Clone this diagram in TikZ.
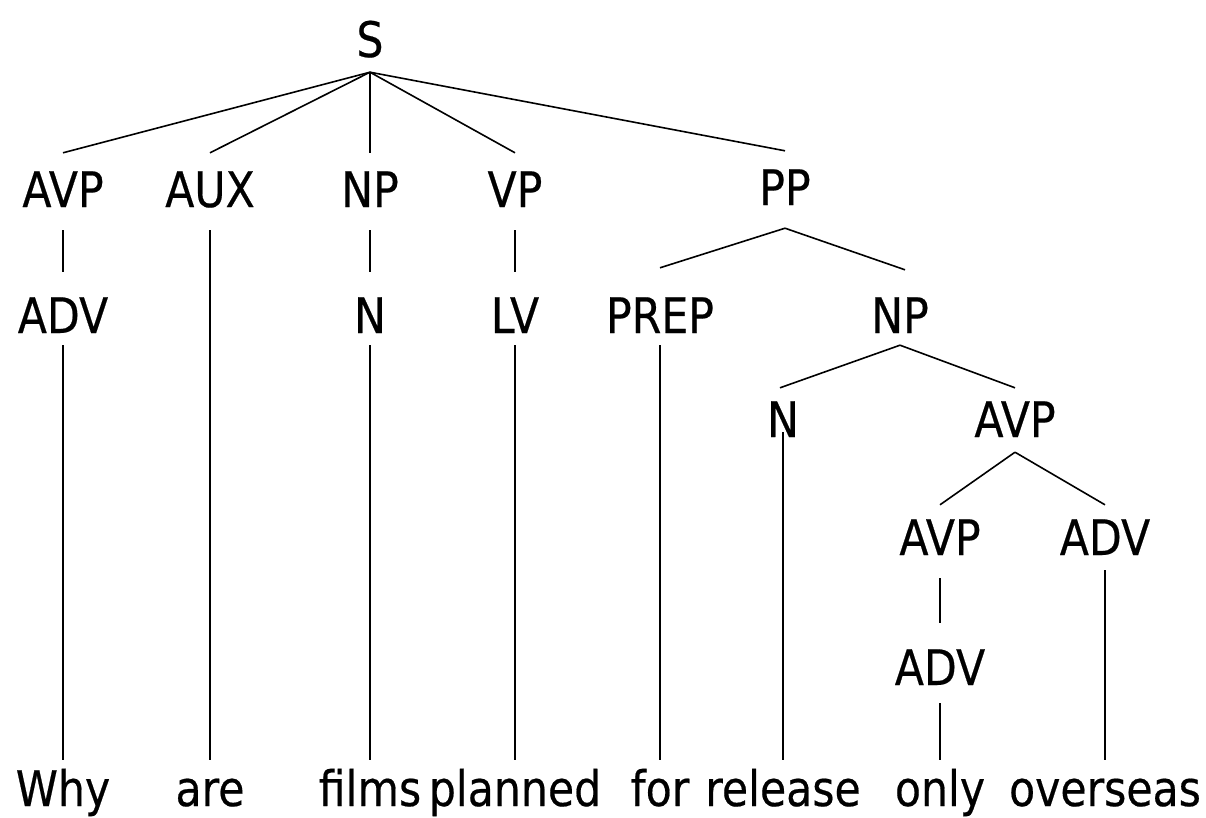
\documentclass[tikz,border=0pt]{standalone}
\usepackage{fontspec}
\setmainfont[FakeStretch=0.87,FakeBold=0.4]{DejaVu Sans}
\begin{document}
\begin{tikzpicture}[x=1bp,y=-1bp,
  lab/.style={anchor=base,inner sep=0pt,text height=36bp,text depth=0pt,
    font=\fontsize{49bp}{58bp}\selectfont},
  edge/.style={line width=1.6bp,black}]
\useasboundingbox (0,0) rectangle (1206,818);
% root
\node[lab] (S) at (370,57) {S};
% row 1
\node[lab] (avpA) at (63,207) {AVP};
\node[lab] (aux) at (210,207) {AUX};
\node[lab] (npA) at (370,207) {NP};
\node[lab] (vp) at (515,207) {VP};
\node[lab] (pp) at (785,205) {PP};
% row 2
\node[lab] (advA) at (63,333) {ADV};
\node[lab] (nA) at (370,333) {N};
\node[lab] (lv) at (515,333) {LV};
\node[lab] (prep) at (660,333) {PREP};
\node[lab] (npB) at (900,333) {NP};
% row 3
\node[lab] (nB) at (783,437) {N};
\node[lab] (avpB) at (1015,437) {AVP};
% row 4
\node[lab] (avpC) at (940,555) {AVP};
\node[lab] (advB) at (1105,555) {ADV};
% row 5
\node[lab] (advC) at (940,685) {ADV};
% words
\node[lab] (w1) at (63,806) {Why};
\node[lab] (w2) at (210,806) {are};
\node[lab] (w3) at (370,806) {films};
\node[lab] (w4) at (515,806) {planned};
\node[lab] (w5) at (660,806) {for};
\node[lab] (w6) at (783,806) {release};
\node[lab] (w7) at (940,806) {only};
\node[lab] (w8) at (1105,806) {overseas};
% S branches
\foreach \c in {avpA,aux,npA,vp,pp}
  \draw[edge] ([yshift=-15bp]S.south) -- ([yshift=18bp]\c.north);
% vertical unary lines
\draw[edge] ([yshift=-23bp]avpA.south) -- ([yshift=25bp]advA.north);
\draw[edge] ([yshift=-23bp]npA.south) -- ([yshift=25bp]nA.north);
\draw[edge] ([yshift=-23bp]vp.south) -- ([yshift=25bp]lv.north);
\draw[edge] ([yshift=-23bp]avpC.south) -- ([yshift=26bp]advC.north);
% lines to words
\draw[edge] ([yshift=-12bp]advA.south) -- ([yshift=10bp]w1.north);
\draw[edge] ([yshift=-23bp]aux.south) -- ([yshift=10bp]w2.north);
\draw[edge] ([yshift=-12bp]nA.south) -- ([yshift=10bp]w3.north);
\draw[edge] ([yshift=-12bp]lv.south) -- ([yshift=10bp]w4.north);
\draw[edge] ([yshift=-12bp]prep.south) -- ([yshift=10bp]w5.north);
\draw[edge] ([yshift=5bp]nB.south) -- ([yshift=10bp]w6.north);
\draw[edge] ([yshift=-18bp]advC.south) -- ([yshift=10bp]w7.north);
\draw[edge] ([yshift=-15bp]advB.south) -- ([yshift=10bp]w8.north);
% binary branches
\draw[edge] ([yshift=-23bp]pp.south) -- ([yshift=29bp]prep.north);
\draw[edge] ([yshift=-23bp]pp.south) -- ([xshift=5bp,yshift=27bp]npB.north);
\draw[edge] ([yshift=-12bp]npB.south) -- ([xshift=-3bp,yshift=13bp]nB.north);
\draw[edge] ([yshift=-12bp]npB.south) -- ([yshift=13bp]avpB.north);
\draw[edge] ([yshift=-15bp]avpB.south) -- ([yshift=14bp]avpC.north);
\draw[edge] ([yshift=-15bp]avpB.south) -- ([yshift=14bp]advB.north);
\end{tikzpicture}
\end{document}
